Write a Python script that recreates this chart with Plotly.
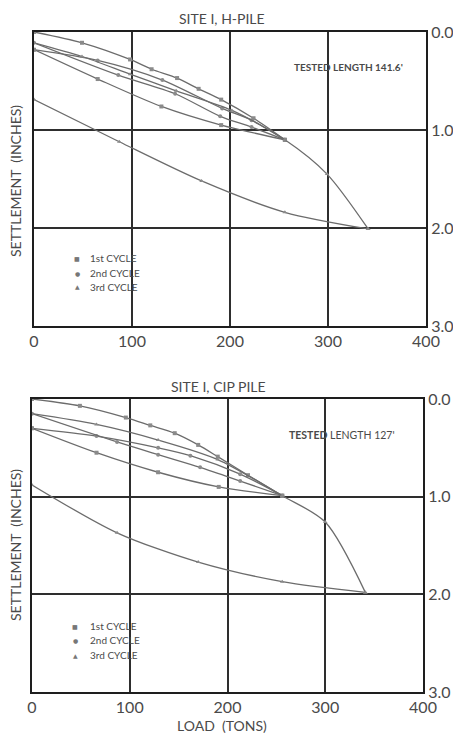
import plotly.graph_objects as go

# ---- Site I, H-pile: load (tons) vs settlement (inches) ----
h_c1_load_x = [0, 49, 98, 120, 146, 168, 191, 224, 256]
h_c1_load_y = [0, 0.11, 0.28, 0.38, 0.47, 0.58, 0.69, 0.88, 1.10]
h_c1_unload_x = [256, 191, 130, 65, 0]
h_c1_unload_y = [1.10, 0.95, 0.76, 0.48, 0.18]
h_c2_load_x = [0, 65, 131, 192, 222, 256]
h_c2_load_y = [0.18, 0.29, 0.49, 0.78, 0.90, 1.10]
h_c2_unload_x = [256, 222, 190, 144, 86, 0]
h_c2_unload_y = [1.10, 0.97, 0.86, 0.63, 0.44, 0.11]
h_c3_load_x = [0, 49, 98, 145, 202, 256, 299, 341]
h_c3_load_y = [0.11, 0.25, 0.43, 0.60, 0.80, 1.10, 1.45, 2.01]
h_c3_unload_x = [341, 256, 171, 87, 0]
h_c3_unload_y = [2.01, 1.84, 1.52, 1.12, 0.69]

# ---- Site I, CIP pile ----
c_c1_load_x = [0, 49, 96, 121, 146, 170, 190, 221, 256]
c_c1_load_y = [0, 0.07, 0.19, 0.27, 0.35, 0.47, 0.59, 0.78, 0.99]
c_c1_unload_x = [256, 191, 129, 66, 0]
c_c1_unload_y = [0.99, 0.90, 0.75, 0.55, 0.30]
c_c2_load_x = [0, 66, 129, 162, 213, 256]
c_c2_load_y = [0.30, 0.38, 0.50, 0.58, 0.77, 0.99]
c_c2_unload_x = [256, 213, 172, 129, 87, 0]
c_c2_unload_y = [0.99, 0.84, 0.70, 0.57, 0.44, 0.15]
c_c3_load_x = [0, 66, 129, 190, 256, 300, 341]
c_c3_load_y = [0.15, 0.26, 0.42, 0.62, 0.99, 1.26, 1.98]
c_c3_unload_x = [341, 256, 170, 87, 0]
c_c3_unload_y = [1.98, 1.87, 1.67, 1.37, 0.88]

x_ticks = [0, 100, 200, 300, 400]
y_ticks = [0, 1, 2, 3]
y_tick_text = ["0.0", "1.0", "2.0", "3.0"]
legend_labels = ["1st CYCLE", "2nd CYCLE", "3rd CYCLE"]
legend_glyphs = ["■", "●", "▲"]

W, H = 453, 734
FONT = "Lato"
INK = "#4a4a4a"
LINE = "#6c6c6c"
GRID = "#2e2e2e"

symbols = {1: "square", 2: "circle", 3: "triangle-up"}

fig = go.Figure()


def add_curve(x, y, cycle, xa, ya):
    fig.add_trace(go.Scatter(
        x=x, y=y, mode="lines+markers", xaxis=xa, yaxis=ya,
        line=dict(color=LINE, width=1.3, shape="spline", smoothing=0.8),
        marker=dict(symbol=symbols[cycle], size=4, color="#8a8a8a"),
        showlegend=False, hoverinfo="x+y",
    ))


h_sets = [
    (h_c1_load_x, h_c1_load_y, 1), (h_c1_unload_x, h_c1_unload_y, 1),
    (h_c2_load_x, h_c2_load_y, 2), (h_c2_unload_x, h_c2_unload_y, 2),
    (h_c3_load_x, h_c3_load_y, 3), (h_c3_unload_x, h_c3_unload_y, 3),
]
c_sets = [
    (c_c1_load_x, c_c1_load_y, 1), (c_c1_unload_x, c_c1_unload_y, 1),
    (c_c2_load_x, c_c2_load_y, 2), (c_c2_unload_x, c_c2_unload_y, 2),
    (c_c3_load_x, c_c3_load_y, 3), (c_c3_unload_x, c_c3_unload_y, 3),
]
for x, y, c in h_sets:
    add_curve(x, y, c, "x", "y")
for x, y, c in c_sets:
    add_curve(x, y, c, "x2", "y2")


def px_x(p):
    return p / W


def px_y(p):
    return 1 - p / H


def xaxis(dom):
    return dict(
        domain=dom, range=[0, 400], tickvals=x_ticks, ticks="",
        showgrid=True, gridcolor=GRID, gridwidth=1.5, zeroline=False,
        showline=True, linecolor="#1e1e1e", linewidth=2, mirror=True,
        tickfont=dict(family=FONT, size=16, color=INK), fixedrange=True,
        automargin=False,
    )


def yaxis(dom, anchor):
    return dict(
        domain=dom, range=[3, 0], tickvals=y_ticks, ticktext=y_tick_text,
        side="right", ticks="", anchor=anchor,
        showgrid=True, gridcolor=GRID, gridwidth=1.5, zeroline=False,
        showline=True, linecolor="#1e1e1e", linewidth=2, mirror=True,
        tickfont=dict(family=FONT, size=16, color=INK), fixedrange=True,
        automargin=False,
    )


fig.update_layout(
    width=W, height=H, margin=dict(l=0, r=0, t=0, b=0, autoexpand=False),
    paper_bgcolor="white", plot_bgcolor="white",
    xaxis=dict(xaxis([px_x(34), px_x(426)]), anchor="y"),
    yaxis=yaxis([px_y(326), px_y(32)], "x"),
    xaxis2=dict(xaxis([px_x(32), px_x(423)]), anchor="y2"),
    yaxis2=yaxis([px_y(692), px_y(399)], "x2"),
)

ann = []


def text(x, y, s, size, **kw):
    d = dict(x=px_x(x), y=px_y(y), xref="paper", yref="paper", text=s,
             showarrow=False, xanchor="center", yanchor="middle",
             font=dict(family=FONT, size=size, color=INK))
    d.update(kw)
    ann.append(d)


# panel titles
text(222, 18, "SITE I, H-PILE", 14)
text(218, 386, "SITE I, CIP PILE", 14)
text(222, 725, "LOAD  (TONS)", 14)

# settlement axis titles
text(15, 181, "SETTLEMENT  (INCHES)", 14, textangle=-90)
text(15, 545, "SETTLEMENT  (INCHES)", 14, textangle=-90)

# pile length notes
text(348, 67, "<b>TESTED LENGTH 141.6'</b>", 10)
text(342, 435, "<b>TESTED</b> LENGTH 127'", 10.5)

# cycle keys
for i, (g, lab) in enumerate(zip(legend_glyphs, legend_labels)):
    for mx, tx, ys in ((77, 88, [258, 273, 287]), (75, 88, [626, 640, 655])):
        text(mx, ys[i], g, 6, font=dict(family="DejaVu Sans", size=6, color="#777"))
        text(tx, ys[i], lab, 10, xanchor="left")

fig.update_layout(annotations=ann)
fig.write_html("out.html")
